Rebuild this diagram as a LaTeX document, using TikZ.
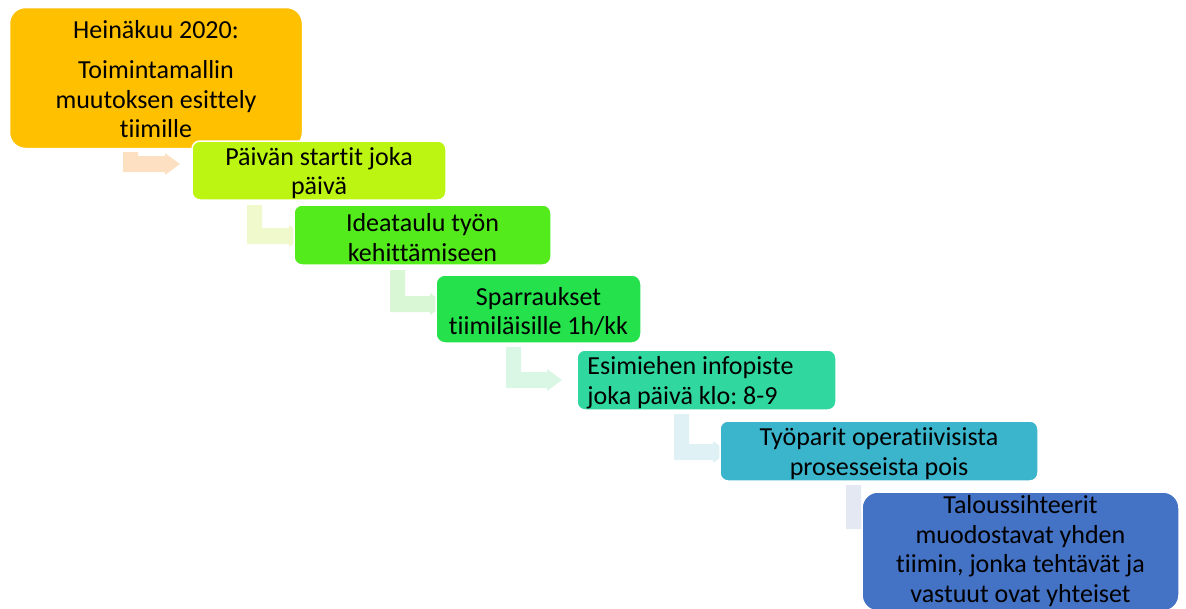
\documentclass[tikz,border=0pt]{standalone}
\usepackage{fontspec}
\setmainfont{Carlito}[Ligatures=NoCommon]
\usetikzlibrary{backgrounds}
\definecolor{c1}{HTML}{FFC000}
\definecolor{c2}{HTML}{BDF513}
\definecolor{c3}{HTML}{54EB1C}
\definecolor{c4}{HTML}{24E14C}
\definecolor{c5}{HTML}{30D8A0}
\definecolor{c6}{HTML}{3AB5CC}
\definecolor{c7}{HTML}{4472C4}
\definecolor{a1}{HTML}{FDE0C2}
\definecolor{a2}{HTML}{F0F9CC}
\definecolor{a3}{HTML}{D9F7D4}
\definecolor{a4}{HTML}{DAF7E6}
\definecolor{a5}{HTML}{DFF1F4}
\definecolor{a6}{HTML}{E3E8F3}
% bent arrow: colour, stem left x, stem top y, bar top y, head base x
\newcommand{\bentarr}[5]{%
  \fill[#1] (#2,#3) -- (#2+15,#3) -- (#2+15,#4) -- (#5,#4) -- (#5,#4-3)
    -- (#5+15,#4+8) -- (#5,#4+19) -- (#5,#4+16) -- (#2,#4+16) -- cycle;}
\frenchspacing
\begin{document}
\begin{tikzpicture}[x=1pt,y=-1pt,
  box/.style={draw=white, line width=1.5pt, inner sep=0pt},
  lbl/.style={align=center, inner sep=0pt, font=\fontsize{26}{29.5}\selectfont, text=black}]
\useasboundingbox (0,0) rectangle (1186,608);
\node[box, fill=c1, rounded corners=16pt, minimum width=293pt, minimum height=141pt] (b1) at (156,78) {};
\node[lbl] (t1) at ([yshift=-1pt]b1.center)
  {Heinäkuu 2020:\\[11pt]Toimintamallin\\muutoksen esittely\\tiimille};
\node[box, fill=c2, rounded corners=8pt, minimum width=254pt, minimum height=59pt] (b2) at (319,170.5) {};
\node[lbl] (t2) at ([yshift=-2.5pt]b2.center) {Päivän startit joka\\päivä};
\node[box, fill=c3, rounded corners=8pt, minimum width=257pt, minimum height=60pt] (b3) at (422.5,235) {};
\node[lbl] (t3) at ([yshift=-2.5pt]b3.center) {Ideataulu työn\\kehittämiseen};
\node[box, fill=c4, rounded corners=9pt, minimum width=205pt, minimum height=68pt] (b4) at (538.5,309) {};
\node[lbl] (t4) at ([yshift=-2.5pt]b4.center) {Sparraukset\\tiimiläisille 1h/kk};
\node[box, fill=c5, rounded corners=8pt, minimum width=259pt, minimum height=60pt] (b5) at (706.5,380) {};
\node[lbl, align=left, anchor=west] (t5) at ([xshift=11pt,yshift=-2.5pt]b5.west) {Esimiehen infopiste\\joka päivä klo: 8-9};
\node[box, fill=c6, rounded corners=8pt, minimum width=318pt, minimum height=60pt] (b6) at (879,451) {};
\node[lbl] (t6) at ([yshift=-2.5pt]b6.center) {Työparit operatiivisista\\prosesseista pois};
\node[box, fill=c7, rounded corners=16pt, minimum width=317pt, minimum height=119pt] (b7) at (1020.5,551.5) {};
\node[lbl] (t7) at ([yshift=0.5pt]b7.center)
  {Taloussihteerit\\muodostavat yhden\\tiimin, jonka tehtävät ja\\vastuut ovat yhteiset};
\begin{pgfonlayer}{background}
\bentarr{a1}{123}{152}{156}{165}
\bentarr{a2}{247}{205}{228}{289}
\bentarr{a3}{390}{270}{296}{430}
\bentarr{a4}{506}{347}{372}{547}
\bentarr{a5}{674}{414}{444}{713}
\bentarr{a6}{846}{485}{513}{870}
\end{pgfonlayer}
\end{tikzpicture}
\end{document}
